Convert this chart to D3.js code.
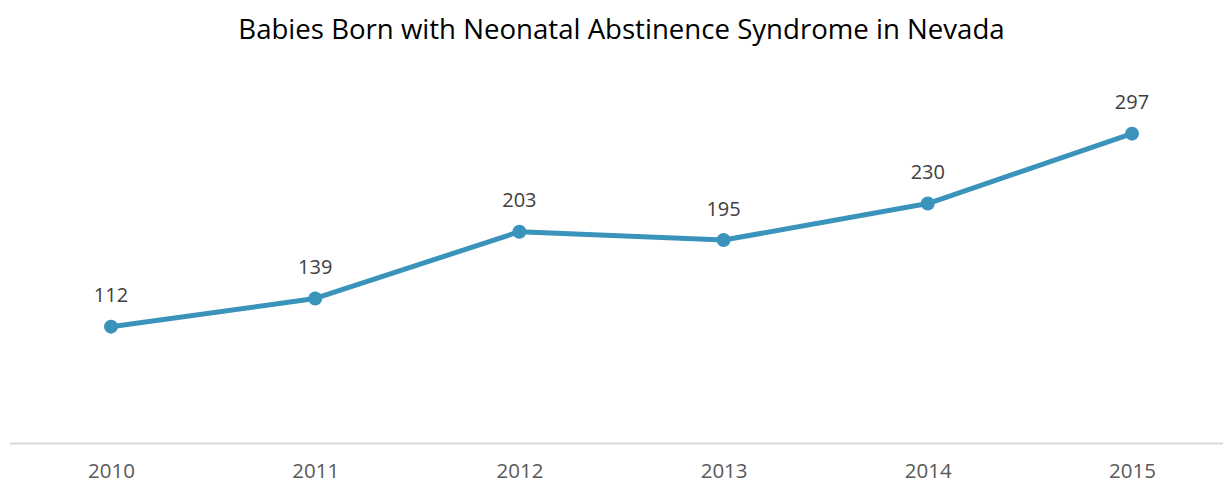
<!DOCTYPE html>
<html><head><meta charset="utf-8">
<script src="https://cdn.jsdelivr.net/npm/d3@7"></script>
<style>body{margin:0;background:#fff}svg{display:block}</style>
</head><body>
<svg id="c" width="1223" height="484"></svg>
<script>
const years = ["2010","2011","2012","2013","2014","2015"];
const births = [112,139,203,195,230,297];
const title = "Babies Born with Neonatal Abstinence Syndrome in Nevada";

const svg = d3.select("#c");
const W = 1223, H = 484;
const font = "'Open Sans', 'Noto Sans', sans-serif";
const x = d3.scalePoint().domain(years).range([111, 1132]);
const y = d3.scaleLinear().domain([0, 400]).range([443.5, 26.2]);

svg.append("text").attr("x", 621.5).attr("y", 38.5).attr("text-anchor","middle")
  .attr("font-family", font).attr("font-size", 27.6).attr("fill","#000").text(title);

svg.append("line").attr("x1",10).attr("x2",W).attr("y1",443.5).attr("y2",443.5)
  .attr("stroke","#d9d9d9").attr("stroke-width",2);

const ax = svg.append("g").attr("transform","translate(0,443.5)")
  .call(d3.axisBottom(x).tickSize(0));
ax.select(".domain").remove();
ax.selectAll("text").attr("y", 34).attr("dy", 0)
  .attr("font-family",font).attr("font-size",20.5).attr("fill","#595959");

const line = d3.line().x((d,i)=>x(years[i])).y(d=>y(d));
svg.append("path").datum(births).attr("d",line).attr("fill","none")
  .attr("stroke","#3a93bb").attr("stroke-width",5).attr("stroke-linejoin","round");

svg.selectAll("circle.p").data(births).join("circle").attr("class","p")
  .attr("cx",(d,i)=>x(years[i])).attr("cy",d=>y(d)).attr("r",7).attr("fill","#3a93bb");

svg.selectAll("text.lbl").data(births).join("text").attr("class","lbl")
  .attr("x",(d,i)=>x(years[i])).attr("y",d=>y(d)-24.5).attr("text-anchor","middle")
  .attr("font-family",font).attr("font-size",20).attr("fill","#404040").text(d=>d);
</script>
</body></html>
